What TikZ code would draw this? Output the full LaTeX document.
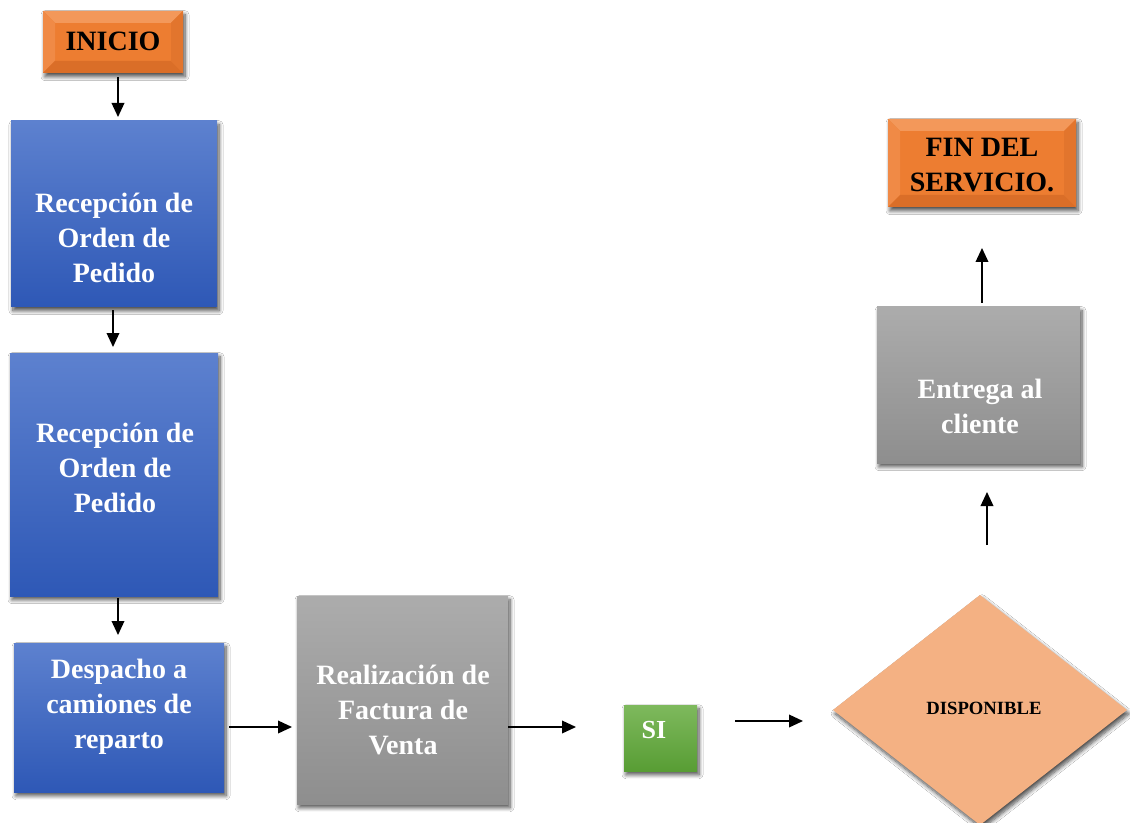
\documentclass[tikz,border=0pt]{standalone}
\usepackage{fontspec}
\setmainfont{Liberation Serif}
\usetikzlibrary{shapes.geometric,arrows.meta,shadows.blur}

\definecolor{blueTop}{RGB}{93,129,207}
\definecolor{blueBot}{RGB}{46,88,182}
\definecolor{grayTop}{RGB}{172,172,172}
\definecolor{grayBot}{RGB}{142,142,142}
\definecolor{greenTop}{RGB}{126,185,93}
\definecolor{greenBot}{RGB}{88,157,52}
\definecolor{orMid}{RGB}{237,125,49}
\definecolor{orLight}{RGB}{243,152,90}
\definecolor{orSide}{RGB}{240,138,70}
\definecolor{orDark}{RGB}{218,110,40}
\definecolor{orRight}{RGB}{226,117,45}
\definecolor{peach}{RGB}{244,177,131}

\tikzset{
  box/.style 2 args={rectangle, inner sep=0pt, outer sep=0pt,
    minimum width=#1*0.75pt, minimum height=#2*0.75pt},
  softshadow/.style={blur shadow={shadow xshift=1.5pt, shadow yshift=-2.8pt,
    shadow blur radius=3pt, shadow blur steps=8, shadow opacity=70}},
  bluebox/.style={softshadow, top color=blueTop, bottom color=blueBot},
  graybox/.style={softshadow, top color=grayTop, bottom color=grayBot},
  greenbox/.style={softshadow, top color=greenTop, bottom color=greenBot},
  bevelbox/.style={softshadow, fill=orMid, path picture={
    \fill[orLight] (path picture bounding box.north west) -- (path picture bounding box.north east)
      -- ([shift={(-9pt,-9pt)}]path picture bounding box.north east)
      -- ([shift={(9pt,-9pt)}]path picture bounding box.north west) -- cycle;
    \fill[orSide] (path picture bounding box.north west) -- (path picture bounding box.south west)
      -- ([shift={(9pt,9pt)}]path picture bounding box.south west)
      -- ([shift={(9pt,-9pt)}]path picture bounding box.north west) -- cycle;
    \fill[orDark] (path picture bounding box.south west) -- (path picture bounding box.south east)
      -- ([shift={(-9pt,9pt)}]path picture bounding box.south east)
      -- ([shift={(9pt,9pt)}]path picture bounding box.south west) -- cycle;
    \fill[orRight] (path picture bounding box.north east) -- (path picture bounding box.south east)
      -- ([shift={(-9pt,9pt)}]path picture bounding box.south east)
      -- ([shift={(-9pt,-9pt)}]path picture bounding box.north east) -- cycle;
  }},
  whitetxt/.style={text=white, align=center, font=\fontsize{21}{26.25}\selectfont\bfseries},
  blacktxt/.style={text=black, align=center, font=\fontsize{21}{26.25}\selectfont\bfseries},
  arr/.style={line width=1.1pt, -{Triangle[length=10.5pt,width=9.5pt]}}
}

\begin{document}
\begin{tikzpicture}[x=0.75pt,y=-0.75pt]
\useasboundingbox (0,0) rectangle (1130,823);
\fill[white] (0,0) rectangle (1130,823);

% process boxes
\node[box={140}{62}, bevelbox] (inicio) at (113,42) {};
\node[blacktxt] (inicioT) at (113,41) {INICIO};

\node[box={206}{186}, bluebox] (rec1) at (114,214) {};
\node[whitetxt] (rec1T) at (114,238) {Recepción de\\Orden de\\Pedido};

\node[box={208}{243}, bluebox] (rec2) at (114,474.5) {};
\node[whitetxt] (rec2T) at (115,468) {Recepción de\\Orden de\\Pedido};

\node[box={210}{149}, bluebox] (desp) at (119,717.5) {};
\node[whitetxt] (despT) at (119,707) {Despacho a\\camiones de\\reparto};

\node[box={211}{208}, graybox] (fact) at (402.5,700) {};
\node[whitetxt] (factT) at (403,710) {Realización de\\Factura de\\Venta};

\node[box={73}{66}, greenbox] (si) at (660.5,738) {};
\node[whitetxt, font=\fontsize{19.5}{24}\selectfont\bfseries] (siT) at (654,730) {SI};

\node[diamond, inner sep=0pt, outer sep=0pt, minimum width=294*0.75pt,
      minimum height=230*0.75pt, fill=peach, softshadow] (disp) at (980,710) {};
\node[blacktxt, font=\fontsize{14}{17}\selectfont\bfseries] (dispT) at (984,708) {DISPONIBLE};

\node[box={203}{156}, graybox] (entr) at (978.5,385) {};
\node[whitetxt] (entrT) at (980,406) {Entrega al\\cliente};

\node[box={188}{88}, bevelbox] (fin) at (982,163) {};
\node[blacktxt] (finT) at (982,165) {FIN DEL\\SERVICIO.};

% connectors
\draw[arr] ([shift={(5,4)}]inicio.south) -- ([shift={(4,-4)}]rec1.north);
\draw[arr] ([shift={(-1,3)}]rec1.south) -- ([shift={(-1,-6)}]rec2.north);
\draw[arr] ([shift={(4,2)}]rec2.south) -- ([shift={(-1,-8)}]desp.north);
\draw[arr] ([shift={(5,9.5)}]desp.east) -- ([shift={(-5,27)}]fact.west);
\draw[arr] ([shift={(0,27)}]fact.east) -- ([shift={(-48,-11)}]si.west);
\draw[arr] ([shift={(38,-17)}]si.east) -- ([shift={(-30,11)}]disp.west);
\draw[arr] ([shift={(7,-50)}]disp.north) -- ([shift={(8.5,29)}]entr.south);
\draw[arr] ([shift={(3.5,-4)}]entr.north) -- ([shift={(0,41)}]fin.south);
\end{tikzpicture}
\end{document}
